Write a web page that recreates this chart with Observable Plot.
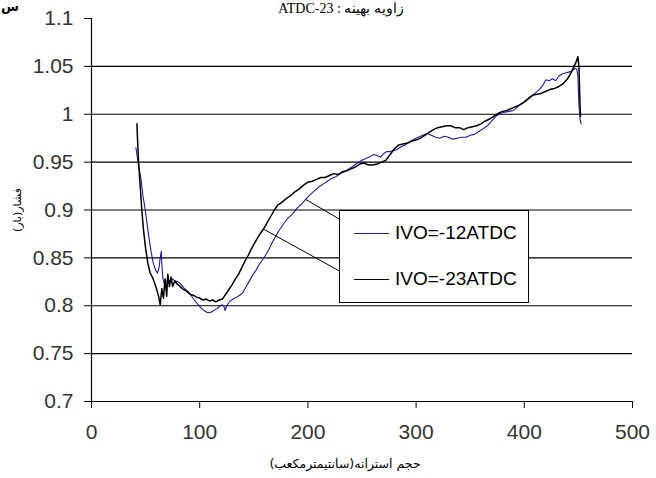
<!DOCTYPE html>
<html><head><meta charset="utf-8">
<script src="https://cdn.jsdelivr.net/npm/d3@7"></script>
<script src="https://cdn.jsdelivr.net/npm/@observablehq/plot@0.6"></script>
<style>
body{margin:0;background:#fff;}
#wrap{position:relative;width:656px;height:478px;overflow:hidden;font-family:"Liberation Sans",Arial,sans-serif;}
#wrap svg{position:absolute;left:0;top:0;}
.abs{position:absolute;white-space:nowrap;}
#title{left:190px;width:302px;top:0px;text-align:center;font-family:"Liberation Serif","DejaVu Serif",serif;font-size:14px;color:#000;}
#xlab{left:190px;width:310px;top:456px;text-align:center;font-family:"DejaVu Sans",sans-serif;font-size:12.5px;}
#ylab{left:17px;top:210px;transform:translate(-50%,-50%) rotate(-90deg);font-family:"DejaVu Sans",sans-serif;font-size:11px;}
#corner{left:1px;top:0px;font-family:"DejaVu Sans",sans-serif;font-size:13px;line-height:14px;font-weight:bold;}
#legend{left:339px;top:210px;width:188px;height:91px;border:1px solid #000;background:#fff;}
.lg{position:absolute;left:14px;width:35px;height:0;}
.lt{position:absolute;left:55px;font-size:19px;line-height:19px;color:#000;}
</style></head><body><div id="wrap"></div><script>
// x: engine displacement volume (cc), y: pressure (bar)
const ivo12 = [
[41,0.965],[42,0.958],[43,0.95],[44.5,0.94],[46,0.93],[47.5,0.915],[49,0.905],[50.5,0.893],[52,0.88],[53.5,0.868],
[55,0.857],[57,0.845],[59,0.838],[61,0.834],[62.5,0.84],[63.5,0.85],[64.5,0.857],[65.2,0.84],[66,0.828],[67.5,0.822],
[69,0.825],[71,0.827],[73,0.826],[75,0.828],[77,0.826],[80,0.825],[83,0.822],[86,0.818],[89,0.815],[92,0.811],
[95,0.806],[98,0.802],[101,0.798],[104,0.795],[107,0.793],[110,0.793],[113,0.795],[116,0.797],[119,0.8],[121,0.801],
[122.5,0.799],[123.5,0.795],[125,0.8],[128,0.805],[131,0.807],[134,0.809],[137,0.811],[140,0.814],[143,0.82],[146,0.826],
[149,0.832],[152,0.837],[155,0.843],[158,0.848],[161,0.853],[164,0.859],[167,0.866],[170,0.872],[173,0.878],[176,0.883],
[179,0.888],[182,0.892],[186,0.896],[190,0.902],[194,0.906],[198,0.911],[202,0.916],[206,0.92],[210,0.924],[214,0.927],
[218,0.93],[222,0.933],[226,0.935],[230,0.938],[234,0.94],[238,0.943],[242,0.946],[246,0.949],[250,0.952],[254,0.954],
[258,0.956],[261,0.958],[264,0.957],[267,0.955],[270,0.959],[273,0.961],[276,0.961],[279,0.962],[282,0.963],[286,0.966],
[290,0.968],[294,0.971],[298,0.974],[302,0.976],[306,0.978],[310,0.98],[314,0.978],[318,0.976],[322,0.975],[326,0.977],
[330,0.976],[334,0.974],[338,0.975],[342,0.976],[346,0.976],[350,0.978],[354,0.979],[358,0.982],[362,0.985],[366,0.988],
[370,0.993],[374,0.998],[378,1.001],[382,1.002],[386,1.003],[390,1.004],[394,1.008],[398,1.011],[402,1.014],[406,1.018],
[410,1.022],[414,1.026],[417,1.03],[420,1.036],[423,1.035],[426,1.037],[429,1.035],[432,1.04],[435,1.042],[438,1.043],
[441,1.044],[444,1.045],[447,1.048],[448.5,1.047],[449.5,1.04],[450.5,1.01],[451.5,0.995],[452.5,0.99]
];
const ivo23 = [
[42,0.99],[42.5,0.975],[43.5,0.95],[45,0.925],[46.5,0.9],[48,0.88],[50,0.86],[52,0.845],[54,0.835],[57,0.828],
[60,0.818],[62,0.81],[63.5,0.801],[65,0.818],[66.5,0.808],[68,0.828],[69.5,0.81],[70.5,0.833],[72,0.82],[73.5,0.83],
[75,0.82],[77,0.826],[79,0.823],[82,0.82],[85,0.817],[88,0.815],[91,0.812],[94,0.811],[97,0.809],[100,0.808],
[103,0.806],[106,0.807],[109,0.805],[112,0.806],[115,0.804],[118,0.806],[121,0.807],[124,0.812],[127,0.817],[130,0.822],
[133,0.828],[136,0.833],[139,0.84],[142,0.847],[145,0.853],[148,0.86],[151,0.866],[154,0.872],[157,0.877],[160,0.882],
[163,0.888],[166,0.894],[169,0.9],[172,0.905],[176,0.908],[180,0.912],[184,0.915],[188,0.919],[192,0.922],[196,0.926],
[200,0.929],[204,0.93],[208,0.932],[212,0.934],[216,0.934],[220,0.936],[224,0.938],[228,0.937],[232,0.94],[236,0.941],
[240,0.943],[244,0.945],[248,0.948],[252,0.949],[256,0.947],[260,0.947],[264,0.948],[268,0.95],[272,0.952],[276,0.958],
[280,0.964],[284,0.968],[288,0.969],[292,0.97],[296,0.972],[300,0.973],[304,0.975],[308,0.978],[312,0.981],[316,0.984],
[320,0.986],[324,0.987],[328,0.988],[332,0.988],[336,0.986],[340,0.986],[344,0.984],[348,0.986],[352,0.987],[356,0.988],
[360,0.99],[364,0.993],[368,0.995],[372,0.998],[376,1.001],[380,1.003],[384,1.004],[388,1.006],[392,1.008],[396,1.01],
[400,1.013],[404,1.017],[408,1.02],[412,1.021],[416,1.022],[420,1.024],[424,1.026],[428,1.027],[432,1.029],[436,1.032],
[440,1.037],[443,1.043],[446,1.05],[448,1.055],[449.5,1.06],[450.5,1.05],[451,1.03],[451.5,1.01],[452,0.998]
];
const seriesNames = ["IVO=-12ATDC","IVO=-23ATDC"];
const seriesColors = ["#1c1c9c","#000000"];
const yTicks = [0.7,0.75,0.8,0.85,0.9,0.95,1,1.05,1.1];
const yTickLabels = ["0.7","0.75","0.8","0.85","0.9","0.95","1","1.05","1.1"];
const xTicks = [0,100,200,300,400,500];
const xTickLabels = ["0","100","200","300","400","500"];
const titleText = "زاویه بهینه : ATDC-23";
const xLabel = "حجم استرانه(سانتیمترمکعب)";
const yLabel = "فشار(بار)";
// leader lines: from a point on each curve to its legend entry
const leaders = [
  {x1:198, y1:0.911, x2:251.5, y2:0.8758},
  {x1:159, y1:0.88, x2:244, y2:0.8271}
];

const plot = Plot.plot({
  width:656, height:478,
  marginLeft:91, marginRight:24, marginTop:18, marginBottom:77,
  style:{fontFamily:"Liberation Sans, Arial, sans-serif", fontSize:"21px", background:"transparent", color:"#000"},
  x:{domain:[0,500]},
  y:{domain:[0.7,1.1]},
  marks:[
    Plot.ruleY(yTicks.filter(d=>d>0.7 && d<1.1), {stroke:"#000", strokeWidth:1.2}),
    Plot.ruleX([0], {stroke:"#000", strokeWidth:1.2}),
    Plot.ruleY([0.7], {stroke:"#000", strokeWidth:1.2}),
    Plot.axisY({ticks:yTicks, tickSize:7, tickPadding:11, tickFormat:(d)=>yTickLabels[yTicks.indexOf(d)], fontSize:21, label:null, stroke:"#000", strokeOpacity:1, fill:"#333"}),
    Plot.axisX({ticks:xTicks, tickSize:7, tickPadding:16, tickFormat:(d)=>xTickLabels[xTicks.indexOf(d)], fontSize:21, label:null, stroke:"#000", strokeOpacity:1, fill:"#333"}),
    Plot.line(ivo12, {x:d=>d[0], y:d=>d[1], stroke:seriesColors[0], strokeWidth:1.1}),
    Plot.line(ivo23, {x:d=>d[0], y:d=>d[1], stroke:seriesColors[1], strokeWidth:1.5}),
    Plot.link(leaders, {x1:"x1", y1:"y1", x2:"x2", y2:"y2", stroke:"#000", strokeWidth:1})
  ]
});
const wrap = document.getElementById("wrap");
wrap.appendChild(plot);
function add(id, cls, html, dir){const d=document.createElement("div");d.id=id;d.className=cls;if(dir)d.dir=dir;d.innerHTML=html;wrap.appendChild(d);return d;}
add("corner","abs","س","rtl");
add("title","abs",titleText,"rtl");
add("xlab","abs",xLabel,"rtl");
add("ylab","abs",yLabel,"rtl");
const lg = add("legend","abs","");
seriesNames.forEach((n,i)=>{
  const cy = i===0 ? 22 : 68;
  const l=document.createElement("div");l.className="lg";l.style.top=cy+"px";l.style.borderTop=(i===0?"1.3px":"1.5px")+" solid "+seriesColors[i];lg.appendChild(l);
  const t=document.createElement("div");t.className="lt";t.style.top=(cy-10)+"px";t.textContent=n;lg.appendChild(t);
});
</script></body></html>
